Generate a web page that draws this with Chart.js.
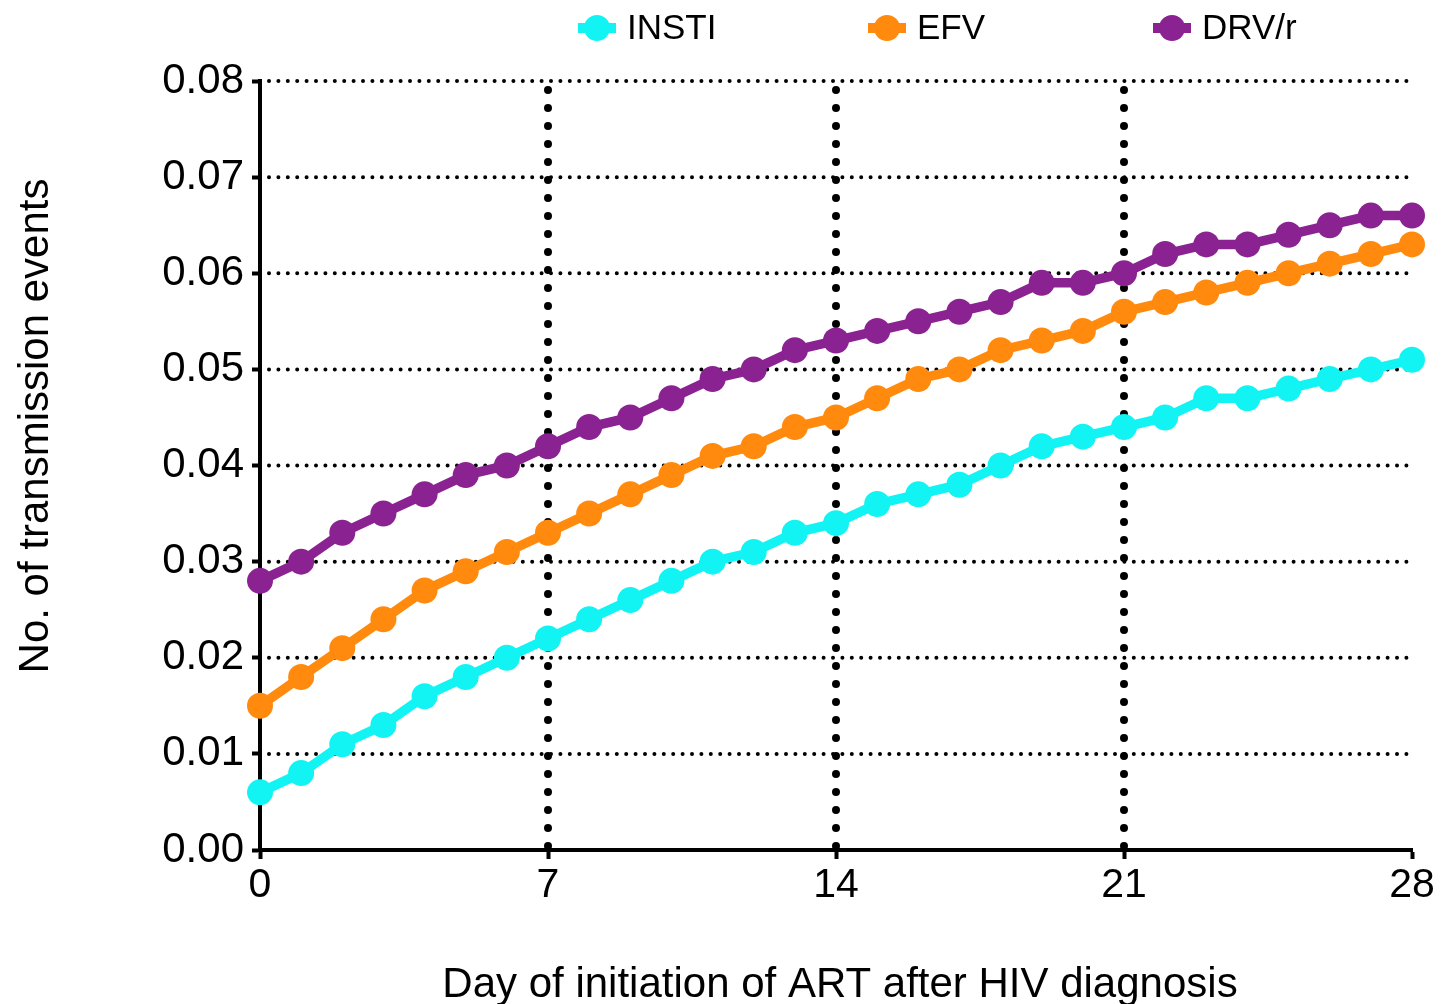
<!DOCTYPE html>
<html>
<head>
<meta charset="utf-8">
<script src="https://cdn.jsdelivr.net/npm/chart.js@4.4.1/dist/chart.umd.min.js"></script>
<style>
  body { margin: 0; background: #fff; }
  canvas { display: block; }
</style>
</head>
<body>
<canvas id="myChart" width="1450" height="1004"></canvas>
<script>
// data
const days = [0, 1, 2, 3, 4, 5, 6, 7, 8, 9, 10, 11, 12, 13, 14, 15, 16, 17, 18, 19, 20, 21, 22, 23, 24, 25, 26, 27, 28];
const insti = [0.006, 0.008, 0.011, 0.013, 0.016, 0.018, 0.020, 0.022, 0.024, 0.026, 0.028, 0.030, 0.031, 0.033, 0.034,
               0.036, 0.037, 0.038, 0.040, 0.042, 0.043, 0.044, 0.045, 0.047, 0.047, 0.048, 0.049, 0.050, 0.051];
const efv = [0.015, 0.018, 0.021, 0.024, 0.027, 0.029, 0.031, 0.033, 0.035, 0.037, 0.039, 0.041, 0.042, 0.044, 0.045,
             0.047, 0.049, 0.050, 0.052, 0.053, 0.054, 0.056, 0.057, 0.058, 0.059, 0.060, 0.061, 0.062, 0.063];
const drvr = [0.028, 0.030, 0.033, 0.035, 0.037, 0.039, 0.040, 0.042, 0.044, 0.045, 0.047, 0.049, 0.050, 0.052, 0.053,
              0.054, 0.055, 0.056, 0.057, 0.059, 0.059, 0.060, 0.062, 0.063, 0.063, 0.064, 0.065, 0.066, 0.066];
const seriesNames = ['INSTI', 'EFV', 'DRV/r'];
const seriesColors = ['#12f4f4', '#ff8a0d', '#8a2291'];
const yTicks = [0, 0.01, 0.02, 0.03, 0.04, 0.05, 0.06, 0.07, 0.08];
const xTicks = [0, 7, 14, 21, 28];
const gridDays = [7, 14, 21];

const FONT = "'Liberation Sans', Arial, Helvetica, sans-serif";

function toPoints(values) {
  return values.map((v, i) => ({ x: days[i], y: v }));
}

// dotted grid lines, drawn under the lines
const dottedGrid = {
  id: 'dottedGrid',
  beforeDatasetsDraw(chart) {
    const { ctx, chartArea: a, scales: { x, y } } = chart;
    ctx.save();
    ctx.strokeStyle = '#000';
    ctx.lineCap = 'round';

    ctx.lineWidth = 4;
    ctx.setLineDash([0, 9.4]);
    yTicks.slice(1).forEach(v => {
      let py = y.getPixelForValue(v);
      ctx.beginPath();
      ctx.moveTo(a.left + 9, py);
      ctx.lineTo(a.right - 2, py);
      ctx.stroke();
    });

    ctx.lineWidth = 8;
    ctx.setLineDash([0, 18]);
    gridDays.forEach(d => {
      let px = x.getPixelForValue(d);
      ctx.beginPath();
      ctx.moveTo(px, a.bottom - 4);
      ctx.lineTo(px, a.top);
      ctx.stroke();
    });
    ctx.restore();
  }
};

// axis titles and the legend row at the top
const extras = {
  id: 'extras',
  afterDraw(chart) {
    const { ctx } = chart;
    ctx.save();
    ctx.fillStyle = '#000';
    ctx.font = '42px ' + FONT;
    ctx.textAlign = 'center';
    ctx.textBaseline = 'alphabetic';
    ctx.fillText('Day of initiation of ART after HIV diagnosis', 840, 997);

    ctx.translate(48, 426);
    ctx.rotate(-Math.PI / 2);
    ctx.fillText('No. of transmission events', 0, 0);
    ctx.restore();

    // legend
    const legendX = [597, 887, 1172];
    ctx.save();
    ctx.font = '35px ' + FONT;
    ctx.textBaseline = 'middle';
    ctx.textAlign = 'left';
    chart.data.datasets.forEach((ds, i) => {
      let cx = legendX[i], cy = 28;
      ctx.strokeStyle = ds.borderColor;
      ctx.lineWidth = 10;
      ctx.beginPath();
      ctx.moveTo(cx - 19, cy);
      ctx.lineTo(cx + 19, cy);
      ctx.stroke();
      ctx.fillStyle = ds.borderColor;
      ctx.beginPath();
      ctx.arc(cx, cy, 13, 0, Math.PI * 2);
      ctx.fill();
      ctx.fillStyle = '#000';
      ctx.fillText(ds.label, cx + 30, cy + 1);
    });
    ctx.restore();
  }
};

const datasets = [insti, efv, drvr].map((vals, i) => ({
  label: seriesNames[i],
  data: toPoints(vals),
  borderColor: seriesColors[i],
  backgroundColor: seriesColors[i],
  pointBackgroundColor: seriesColors[i],
  pointBorderWidth: 0,
  pointRadius: 13,
  borderWidth: 9.5,
  tension: 0,
  clip: false
}));

let ctx = document.getElementById('myChart').getContext('2d');
let myChart = new Chart(ctx, {
  type: 'line',
  data: { datasets: datasets },
  options: {
    responsive: false,
    animation: false,
    devicePixelRatio: 1,
    layout: { padding: { top: 81, right: 38, left: 0, bottom: 0 } },
    plugins: {
      legend: { display: false },
      tooltip: { enabled: false }
    },
    scales: {
      x: {
        type: 'linear',
        min: 0,
        max: 28,
        afterFit: s => { s.height = 154; },
        afterBuildTicks: s => { s.ticks = xTicks.map(v => ({ value: v })); },
        border: { display: true, color: '#000', width: 4 },
        grid: { drawOnChartArea: false, drawTicks: true, tickLength: 9, tickWidth: 4, tickColor: '#000' },
        ticks: { color: '#000', font: { family: FONT, size: 41 }, padding: 2, maxRotation: 0 }
      },
      y: {
        min: 0,
        max: 0.08,
        afterFit: s => { s.width = 260; },
        afterBuildTicks: s => { s.ticks = yTicks.map(v => ({ value: v })); },
        border: { display: true, color: '#000', width: 4 },
        grid: { drawOnChartArea: false, drawTicks: true, tickLength: 8, tickWidth: 4, tickColor: '#000' },
        ticks: { color: '#000', font: { family: FONT, size: 42 }, padding: 8, callback: v => v.toFixed(2) }
      }
    }
  },
  plugins: [dottedGrid, extras]
});
</script>
</body>
</html>
